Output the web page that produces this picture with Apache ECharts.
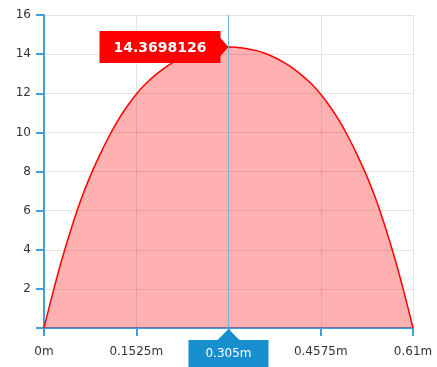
<!DOCTYPE html>
<html>
<head>
<meta charset="utf-8">
<script src="https://cdn.jsdelivr.net/npm/echarts@6/dist/echarts.min.js"></script>
<style>
  html, body { margin: 0; padding: 0; background: #fff; }
  #chart { width: 437px; height: 367px; }
</style>
</head>
<body>
<div id="chart"></div>
<script>
// Span positions along the member (m)
const positions = [
  0, 0.01525, 0.0305, 0.04575, 0.061, 0.07625, 0.0915, 0.10675, 0.122, 0.13725,
  0.1525, 0.16775, 0.183, 0.19825, 0.2135, 0.22875, 0.244, 0.25925, 0.2745, 0.28975,
  0.305,
  0.32025, 0.3355, 0.35075, 0.366, 0.38125, 0.3965, 0.41175, 0.427, 0.44225,
  0.4575, 0.47275, 0.488, 0.50325, 0.5185, 0.53375, 0.549, 0.56425, 0.5795, 0.59475,
  0.61
];
// Values along the span
const values = [
  0, 1.87, 3.6, 5.15, 6.55, 7.75, 8.8, 9.75, 10.6, 11.32,
  11.95, 12.47, 12.9, 13.27, 13.58, 13.83, 14.03, 14.18, 14.28, 14.34,
  14.3698126,
  14.34, 14.28, 14.18, 14.03, 13.83, 13.58, 13.27, 12.9, 12.47,
  11.95, 11.32, 10.6, 9.75, 8.8, 7.75, 6.55, 5.15, 3.6, 1.87,
  0
];
// Highlighted point
const focusX = 0.305;
const focusY = 14.3698126;
// Axis ticks
const xTicks = [0, 0.1525, 0.305, 0.4575, 0.61];
const yTicks = [0, 2, 4, 6, 8, 10, 12, 14, 16];

const axisBlue = '#3f9fda';
const font = 'DejaVu Sans';
const yMin = yTicks[0];
const yMax = yTicks[yTicks.length - 1];

const chart = echarts.init(document.getElementById('chart'), null, { renderer: 'canvas' });

chart.setOption({
  animation: false,
  grid: { left: 44, right: 24, top: 15, bottom: 39 },
  xAxis: {
    type: 'value',
    min: xTicks[0],
    max: xTicks[xTicks.length - 1],
    interval: xTicks[1] - xTicks[0],
    axisLine: { show: true, lineStyle: { color: axisBlue, width: 2 } },
    axisTick: { show: true, length: 8, lineStyle: { color: axisBlue, width: 2 } },
    axisLabel: {
      margin: 18, color: '#333', fontFamily: font, fontSize: 12,
      formatter: v => v + 'm'
    },
    splitLine: { show: true, lineStyle: { color: '#e4e4e4', width: 1 } }
  },
  yAxis: {
    type: 'value',
    min: yMin,
    max: yMax,
    interval: yTicks[1] - yTicks[0],
    axisLine: { show: true, lineStyle: { color: axisBlue, width: 2 } },
    axisTick: { show: true, length: 8, lineStyle: { color: axisBlue, width: 2 } },
    axisLabel: {
      margin: 13, color: '#333', fontFamily: font, fontSize: 12,
      formatter: v => (v === 0 ? '' : String(v))
    },
    splitLine: { show: true, lineStyle: { color: '#e4e4e4', width: 1 } }
  },
  series: [{
    type: 'line',
    clip: false,
    smooth: 0.4,
    data: positions.map((x, i) => [x, values[i]]),
    showSymbol: false,
    lineStyle: { color: '#ff0000', width: 1.5 },
    areaStyle: { color: '#ff0000', opacity: 0.31 },
    // vertical cursor line through the highlighted position
    markLine: {
      silent: true,
      symbol: 'none',
      label: { show: false },
      lineStyle: { color: '#6db3df', width: 1, type: 'solid' },
      data: [[{ coord: [focusX, yMin] }, { coord: [focusX, yMax] }]]
    },
    markPoint: {
      silent: true,
      data: [
        {
          // value badge pointing at the peak
          coord: [focusX, focusY],
          value: focusY,
          symbol: 'path://M0,0 H121 V7 L129,16 L121,25 V32 H0 Z',
          symbolSize: [129, 32],
          symbolKeepAspect: false,
          symbolOffset: [-64.5, 0],
          itemStyle: { color: '#ff0000' },
          label: {
            show: true, position: 'inside', offset: [-4, 1],
            color: '#fff', fontFamily: font, fontSize: 14, fontWeight: 'bold',
            formatter: () => String(focusY)
          }
        },
        {
          // position badge under the x axis
          coord: [focusX, yMin],
          value: focusX,
          symbol: 'path://M40,0 L51,11 H80 V44 H0 V11 H29 Z',
          symbolSize: [80, 44],
          symbolKeepAspect: false,
          symbolOffset: [0, 23],
          itemStyle: { color: '#178fcf' },
          label: {
            show: true, position: 'inside', offset: [0, 3],
            color: '#fff', fontFamily: font, fontSize: 12,
            formatter: () => focusX + 'm'
          }
        }
      ]
    }
  }]
});
</script>
</body>
</html>
